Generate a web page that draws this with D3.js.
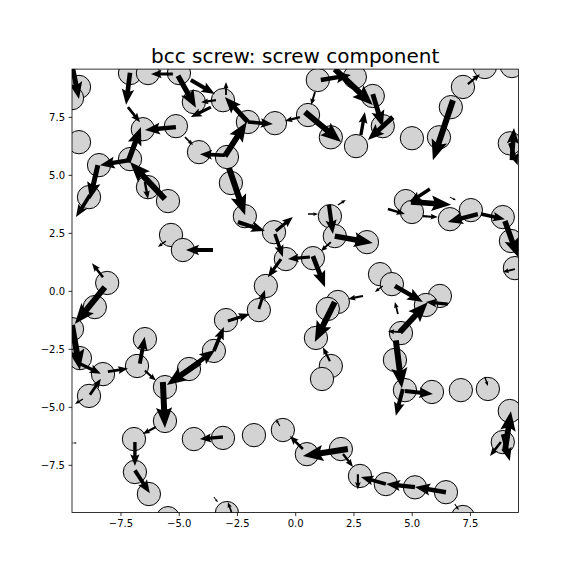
<!DOCTYPE html>
<html><head><meta charset="utf-8">
<script src="https://cdn.jsdelivr.net/npm/d3@7"></script>
<style>body{margin:0;background:#fff}</style>
</head><body>
<svg id="c" width="576" height="576"></svg>
<script>
const titleText = "bcc screw: screw component";
const xTicks = [-7.5, -5, -2.5, 0, 2.5, 5, 7.5];
const yTicks = [-7.5, -5, -2.5, 0, 2.5, 5, 7.5];
const atomX = [-9.28,-9.58,-7.09,-6.32,-4.99,-4.35,-3.10,-6.54,-5.12,-9.28,-4.13,-8.42,-7.09,-6.32,-5.46,-8.85,-2.93,-2.76,-2.16,-2.03,-0.87,0.55,0.97,2.56,1.53,2.61,3.33,3.76,5.01,6.17,6.68,7.20,8.14,9.30,9.21,-5.33,-4.82,-8.07,-8.60,-9.58,-6.45,-9.24,-8.25,-6.79,-2.97,-3.49,-4.56,-0.91,-0.40,0.76,1.49,1.70,3.08,3.64,-1.26,-1.56,1.83,1.40,0.89,1.53,1.15,4.15,6.21,5.61,4.54,4.28,9.26,9.43,4.75,5.01,6.64,7.54,8.91,-8.85,-5.59,-5.59,-6.92,-4.35,-3.10,-6.88,-6.28,-5.46,-2.93,-1.77,-0.53,0.50,1.96,2.78,3.89,5.14,6.47,7.20,4.71,5.87,7.11,8.27,9.21,8.91];
const atomY = [8.79,8.31,9.39,9.39,9.39,8.14,8.22,6.97,7.10,6.41,5.98,5.42,5.68,4.47,3.87,4.04,5.77,4.65,3.22,7.28,7.23,7.58,9.09,9.22,6.62,6.24,8.40,7.10,6.58,6.62,7.92,8.79,9.65,9.69,6.36,2.41,1.76,0.34,-0.70,-1.65,-2.08,-2.90,-3.59,-3.24,-1.26,-2.59,-3.37,2.53,1.37,1.41,3.22,2.36,2.10,0.72,0.21,-0.83,-0.48,-0.78,-2.03,-3.24,-3.80,0.29,-0.22,-0.61,-1.82,-2.98,2.15,0.98,3.87,3.40,3.09,3.48,3.18,-4.53,-4.15,-5.61,-6.39,-6.39,-6.34,-7.81,-8.76,-9.80,-9.58,-6.22,-6.00,-7.04,-6.82,-7.98,-8.33,-8.47,-8.68,-9.75,-4.28,-4.36,-4.28,-4.23,-5.18,-6.52];
// arrow tails (x, y) and components (u, v), data units
const arrowX = [-9.58,-7.09,-5.25,-5.03,-4.48,-3.40,-3.62,-7.18,-5.12,-4.73,-3.02,-7.18,-7.09,-8.47,-8.81,-5.59,-6.45,-2.97,-2.03,-2.03,0.20,0.85,0.42,1.10,1.70,2.82,3.33,4.19,7.41,6.77,9.30,9.21,5.78,4.97,3.98,5.48,7.84,7.97,9.00,9.43,3.76,4.28,6.55,4.49,4.41,4.54,4.32,4.62,4.71,-5.55,-3.53,-8.25,-8.17,-9.58,-6.67,-9.24,-8.04,-6.45,-4.56,-4.09,-3.49,-5.68,-5.98,-3.10,-6.88,-6.88,-3.49,-9.11,-8.81,-2.46,-0.83,-0.87,0.63,0.76,1.45,1.70,1.53,-0.61,-1.56,-2.89,2.91,1.70,1.49,-0.66,0.33,2.26,2.05,2.69,6.47,5.14,3.89,8.14,9.00,8.91,8.83,-2.72,1.83,0.55,-3.02,-2.84,-9.58,6.64,6.85];
const arrowY = [9.74,9.40,9.35,9.27,9.09,8.22,7.92,7.92,7.06,6.63,5.85,5.55,5.64,5.42,4.13,3.96,4.69,8.44,7.28,7.28,7.49,8.57,7.71,9.09,9.56,6.72,8.48,7.49,8.91,8.22,5.64,6.37,4.39,3.84,3.53,3.22,3.31,3.31,3.01,0.94,0.21,0.21,-0.57,-1.78,-1.00,-1.78,-2.13,-4.23,-4.32,2.15,1.76,0.59,0.16,-1.47,-3.14,-3.14,-3.48,-3.44,-3.37,-3.07,-2.59,-3.93,-5.87,-6.30,-6.52,-7.74,-8.89,-4.66,-4.48,2.97,2.58,2.45,1.46,1.50,3.70,2.36,2.10,1.37,-0.78,-1.30,-0.22,-0.48,-3.03,-5.83,-6.82,-6.82,-7.03,-7.91,-8.68,-8.46,-8.33,-3.71,-6.91,-6.18,-6.52,-9.58,3.70,3.31,5.81,5.29,-6.56,4.04,-9.19];
const arrowU = [0.30,-0.17,-0.94,0.77,1.03,-0.64,-0.86,0.52,-1.33,0.34,-1.07,0.56,-1.29,-0.34,-0.60,-1.50,0.13,0,-0.99,1.07,-0.64,-0.17,1.55,1.29,1.63,0.17,0.43,-1.07,0.52,-0.86,0.09,0.34,-0.86,1.72,0.73,0.64,-1.29,1.03,0.56,-0.52,-0.34,1.20,-0.94,1.20,-0.13,-0.56,0.26,-0.30,1.20,-0.34,-1.16,-0.47,-1.29,0.34,0.21,0.90,0.86,0.47,1.12,-1.42,0.43,0.09,-0.56,-0.99,0,0.64,0.17,-0.34,0.47,1.16,0.73,0.34,-0.94,0.52,0.17,1.63,-0.43,-0.56,0.26,0.94,-0.64,-0.86,-0.30,-0.17,-0.56,-1.93,0.43,0,-1.33,-1.24,-1.07,0.13,0.26,0.30,-0.47,-0.17,0.34,0.43,0.94,0.69,0.21,0.26,0.17];
const arrowV = [-1.47,-1.38,0,-1.38,-0.60,-0.09,-0.43,-0.65,-0.13,-0.34,0.04,1.51,-0.22,-1.47,-0.95,1.59,-0.73,0.56,1.08,-0.09,-0.17,-0.56,-1.29,0.22,-1.55,0.99,-1.42,-0.99,0.43,-2.59,1.38,-0.95,-0.56,-0.13,-0.22,-0.04,-0.34,-0.22,-1.55,-0.13,-0.26,-0.69,0.09,1.29,0.52,0.04,-2.07,-1.16,-0.13,-0.26,0,0.60,-1.59,-1.94,1.16,-0.43,0.13,-0.43,0.82,-0.99,1.03,-1.98,-0.30,-0.09,-1.03,-0.99,-0.22,-0.22,0.69,-0.39,0.60,-0.99,-0.09,-1.34,-1.25,-0.30,-0.39,-0.78,0.82,0.30,-0.13,-1.72,0.60,0.30,0.56,-0.30,-0.56,-0.65,0.22,0.13,0.30,-0.39,1.72,-1.16,-0.60,0.47,0.22,0,1.47,-2.03,0,-0.13,-0.26];

const svg = d3.select("#c");
const W = 576, H = 576;
const L = 72, R = 518.4, T = 69.1, B = 512.6;
const x = d3.scaleLinear().domain([-9.58, 9.58]).range([L, R]);
const y = d3.scaleLinear().domain([-9.56, 9.56]).range([B, T]);

svg.append("rect").attr("width", W).attr("height", H).attr("fill", "#fff");
svg.append("defs").append("clipPath").attr("id", "clip")
  .append("rect").attr("x", L).attr("y", T).attr("width", R - L).attr("height", B - T);

const plot = svg.append("g").attr("clip-path", "url(#clip)");
const rad = x(0.5) - x(0);
const atoms = atomX.map((d, i) => ({x: d, y: atomY[i]}));
plot.selectAll("circle").data(atoms).enter().append("circle")
  .attr("cx", d => x(d.x)).attr("cy", d => y(d.y)).attr("r", rad)
  .attr("fill", "#d3d3d3").attr("stroke", "#000").attr("stroke-width", 1);

// matplotlib-like quiver arrow polygons
const wid = 6, hw = 2.7, hl = 3.4, hal = 3.0, minsh = 7;
function arrowPath(x0, y0, x1, y1) {
  const dx = x1 - x0, dy = y1 - y0;
  const len = Math.hypot(dx, dy) / wid;
  let px, py;
  if (len >= minsh) {
    px = [0, len - hal, len - hl, len];
    py = [0.5, 0.5, 0.5 * hw, 0];
  } else {
    const s = len / minsh;
    px = [0, minsh - hal, minsh - hl, minsh].map(v => v * s);
    py = [0.5, 0.5, 0.5 * hw, 0].map(v => v * s);
  }
  const pts = [[px[0], py[0]], [px[1], py[1]], [px[2], py[2]], [px[3], 0], [px[2], -py[2]], [px[1], -py[1]], [px[0], -py[0]]];
  const a = Math.atan2(dy, dx), c = Math.cos(a), s2 = Math.sin(a);
  return "M" + pts.map(p => {
    const X = p[0] * wid, Y = p[1] * wid;
    return (x0 + X * c - Y * s2).toFixed(2) + "," + (y0 + X * s2 + Y * c).toFixed(2);
  }).join("L") + "Z";
}
const arrows = arrowX.map((d, i) => ({x: d, y: arrowY[i], u: arrowU[i], v: arrowV[i]}));
plot.selectAll("path.arr").data(arrows).enter().append("path").attr("class", "arr")
  .attr("d", d => arrowPath(x(d.x), y(d.y), x(d.x + d.u), y(d.y + d.v)))
  .attr("fill", "#000").attr("stroke", "none");

// frame
svg.append("rect").attr("x", L).attr("y", T).attr("width", R - L).attr("height", B - T)
  .attr("fill", "none").attr("stroke", "#000").attr("stroke-width", 0.8);

const fmt = d3.format(".1f");
const xa = svg.append("g").attr("transform", `translate(0,${B})`)
  .call(d3.axisBottom(x).tickValues(xTicks).tickFormat(fmt).tickSize(3.5).tickSizeOuter(0).tickPadding(3.5));
const ya = svg.append("g").attr("transform", `translate(${L},0)`)
  .call(d3.axisLeft(y).tickValues(yTicks).tickFormat(fmt).tickSize(3.5).tickSizeOuter(0).tickPadding(3.5));
[xa, ya].forEach(g => {
  g.select(".domain").remove();
  g.selectAll("line").attr("stroke", "#000").attr("stroke-width", 0.8);
  g.selectAll("text").attr("fill", "#000").attr("font-family", "DejaVu Sans").attr("font-size", 10);
});

svg.append("text").attr("x", (L + R) / 2).attr("y", T - 6)
  .attr("text-anchor", "middle").attr("font-family", "DejaVu Sans").attr("font-size", 20)
  .attr("fill", "#000").text(titleText);
</script>
</body></html>
